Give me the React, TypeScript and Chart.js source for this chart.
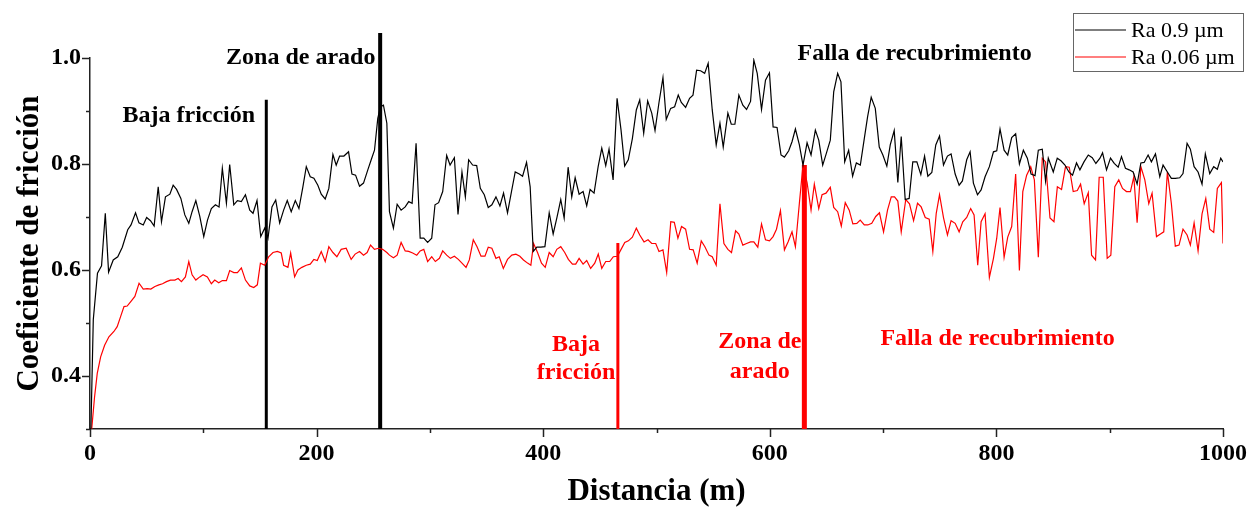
import { useEffect, useRef } from 'react';
import { Chart, registerables } from 'chart.js';

Chart.register(...registerables);

const FONT = '"Liberation Serif", "Times New Roman", serif';

// Ra 0.9 µm series
const blackDist = [0.8, 2.9, 6.6, 10.2, 13.5, 16.4, 20.5, 24.5, 28.5, 33.3, 36.2, 40.2, 43.2, 47, 50, 53.4, 56.6, 60.2, 63.1, 66.6, 70.5, 73.4, 76.4, 80.2, 83.7, 87.2, 90.1, 93.4, 96.9, 100.4, 103.7, 107.1, 110.7, 113.9, 116.8, 120.4, 123.3, 126.9, 130.1, 133.6, 137.2, 141, 143.9, 147.4, 150.7, 154.2, 157.1, 160.6, 163.9, 167.4, 170.9, 174.1, 177.6, 181.2, 184.4, 187.9, 190.9, 194.4, 197.6, 201.1, 204.1, 207.6, 210.8, 214.4, 217.3, 220.3, 224.1, 228.2, 231.2, 234.4, 237.9, 241.4, 245.2, 248.2, 251.1, 254, 256.4, 259, 262, 264.3, 267.8, 271.1, 274.6, 278.2, 281.3, 284.3, 287.8, 291.4, 294.6, 298, 301.6, 304.5, 307.7, 311.3, 314.8, 317.8, 321.6, 324.8, 328.3, 331.3, 334.2, 337.7, 341.3, 344.5, 348, 351.5, 354.7, 358.3, 361.8, 365, 368.5, 372, 375.3, 378.9, 381.8, 385.3, 388.5, 391.2, 394.4, 397.9, 401.5, 405.3, 408.8, 412, 415.5, 418.5, 422, 425.2, 428.2, 431.7, 435.2, 438.4, 441.4, 444.9, 448.5, 451.7, 455.2, 458.1, 461.7, 465.2, 468.7, 471.9, 475.1, 478.7, 482.2, 485.2, 488.7, 492.2, 495.8, 498.7, 502.2, 505.7, 508.6, 512.5, 516, 519.2, 521.9, 525.7, 529.2, 532.2, 535.4, 538.9, 542.5, 545.6, 549.2, 552.7, 556, 558.9, 563, 566, 569.2, 572.7, 576.2, 579.5, 583, 585.9, 588.9, 592.7, 596.2, 599.7, 602.9, 606.4, 609.9, 612.9, 616.7, 619.6, 622.6, 626.1, 629.3, 632.9, 636.4, 640.2, 643.2, 646.7, 649.9, 653.4, 656.4, 659.9, 662.8, 666.1, 669.6, 673.1, 676.4, 679.9, 683.4, 686.3, 689.5, 693.1, 696.6, 699.8, 703.3, 706.3, 709.8, 713, 716, 719.5, 723, 726.2, 729.8, 733.3, 736.6, 739.5, 743, 746.5, 749.8, 753.3, 756.8, 760, 763.6, 767.1, 770, 773.8, 776.8, 779.7, 783.3, 786.5, 790, 793.8, 797.4, 800.3, 803.2, 806.8, 810, 813.5, 817, 820.3, 823.8, 827.3, 830.6, 834.1, 837, 840.5, 843.4, 845.8, 850.2, 853.7, 857, 860.5, 864, 867.2, 870.7, 873.7, 877.3, 881.1, 884.6, 887.8, 891.4, 893.7, 897.2, 900.7, 904, 907.5, 910.4, 913.9, 917.2, 920.7, 924.2, 927.5, 930.4, 933.9, 936.8, 940.4, 944.2, 947.1, 950.9, 954.4, 957.9, 961.8, 964.7, 968.3, 971.2, 974.5, 978, 981.5, 984.4, 988.3, 991.8, 995, 998, 1000];
const blackCof = [0.30, 0.506, 0.594, 0.608, 0.707, 0.596, 0.619, 0.625, 0.643, 0.676, 0.685, 0.708, 0.689, 0.685, 0.699, 0.693, 0.683, 0.757, 0.691, 0.738, 0.743, 0.760, 0.752, 0.735, 0.704, 0.688, 0.710, 0.731, 0.701, 0.663, 0.694, 0.716, 0.723, 0.719, 0.792, 0.726, 0.799, 0.723, 0.731, 0.729, 0.742, 0.713, 0.707, 0.731, 0.663, 0.679, 0.660, 0.719, 0.732, 0.689, 0.713, 0.731, 0.710, 0.731, 0.716, 0.757, 0.795, 0.776, 0.773, 0.760, 0.743, 0.734, 0.754, 0.818, 0.798, 0.815, 0.815, 0.823, 0.781, 0.779, 0.758, 0.764, 0.789, 0.808, 0.826, 0.886, 0.908, 0.911, 0.877, 0.710, 0.679, 0.724, 0.713, 0.719, 0.729, 0.726, 0.839, 0.660, 0.660, 0.652, 0.660, 0.723, 0.727, 0.748, 0.816, 0.798, 0.812, 0.705, 0.785, 0.738, 0.808, 0.798, 0.797, 0.754, 0.742, 0.718, 0.723, 0.738, 0.721, 0.745, 0.708, 0.748, 0.785, 0.781, 0.777, 0.803, 0.757, 0.635, 0.643, 0.643, 0.644, 0.708, 0.668, 0.698, 0.733, 0.698, 0.794, 0.738, 0.774, 0.743, 0.748, 0.721, 0.752, 0.745, 0.795, 0.830, 0.797, 0.828, 0.770, 0.924, 0.864, 0.796, 0.808, 0.848, 0.902, 0.921, 0.858, 0.919, 0.896, 0.863, 0.916, 0.963, 0.884, 0.905, 0.908, 0.930, 0.916, 0.907, 0.924, 0.930, 0.977, 0.976, 0.971, 0.990, 0.902, 0.836, 0.877, 0.832, 0.896, 0.875, 0.875, 0.930, 0.911, 0.903, 0.918, 0.996, 0.971, 0.903, 0.958, 0.972, 0.870, 0.869, 0.817, 0.813, 0.825, 0.842, 0.866, 0.836, 0.798, 0.840, 0.817, 0.864, 0.845, 0.798, 0.820, 0.845, 0.936, 0.971, 0.955, 0.804, 0.826, 0.777, 0.802, 0.798, 0.848, 0.889, 0.926, 0.905, 0.832, 0.817, 0.796, 0.836, 0.863, 0.765, 0.852, 0.733, 0.735, 0.804, 0.804, 0.780, 0.815, 0.777, 0.784, 0.836, 0.853, 0.798, 0.815, 0.819, 0.781, 0.760, 0.768, 0.808, 0.823, 0.764, 0.742, 0.751, 0.776, 0.795, 0.823, 0.825, 0.866, 0.826, 0.817, 0.850, 0.857, 0.800, 0.826, 0.811, 0.781, 0.778, 0.826, 0.828, 0.768, 0.811, 0.785, 0.811, 0.806, 0.798, 0.785, 0.779, 0.802, 0.789, 0.804, 0.817, 0.812, 0.801, 0.811, 0.821, 0.789, 0.811, 0.801, 0.794, 0.814, 0.792, 0.789, 0.785, 0.762, 0.802, 0.803, 0.817, 0.804, 0.819, 0.776, 0.798, 0.785, 0.773, 0.773, 0.774, 0.782, 0.839, 0.828, 0.795, 0.785, 0.762, 0.819, 0.782, 0.795, 0.790, 0.811, 0.804];

// Ra 0.06 µm series
const redDist = [1.5, 4, 6.4, 9.4, 12.9, 16.7, 21.1, 24, 27, 30, 32.8, 35.8, 39.6, 43.3, 47, 50.5, 53.7, 57.3, 60.8, 64, 67.5, 71, 74.9, 77.8, 80.7, 84.2, 87.2, 90.1, 93.4, 96.9, 99.8, 103.6, 107.1, 110.1, 113.6, 116.8, 120.4, 123.3, 126.9, 130.1, 133.6, 137.2, 141, 144.5, 147.7, 150.4, 154.2, 157.7, 161.5, 165.4, 168.8, 170.9, 174.7, 177.1, 180.6, 183.5, 187, 190.9, 194.4, 197.6, 200.6, 204.1, 207.6, 210.8, 214.4, 217.9, 221.7, 226.1, 230.5, 234, 237.9, 241.4, 244.6, 247.6, 251.1, 254.6, 258.3, 262, 264.3, 267.8, 271.1, 274.6, 278.2, 281.3, 284.8, 288.4, 291.4, 294.6, 298, 301.6, 304.8, 308.4, 311.3, 314.8, 318.1, 321.6, 325.1, 328.3, 331.9, 334.8, 338.3, 341.6, 345.1, 348.6, 351.5, 354.7, 358.3, 361.2, 364.8, 368.5, 372.3, 375.9, 379.4, 382.6, 386.2, 389.1, 391.5, 395, 398.5, 401.8, 405.3, 408.8, 412, 415.5, 419, 422.2, 425.8, 428.7, 431.7, 435.2, 438.4, 441.9, 445.5, 448.6, 451.7, 455.2, 458.7, 461.9, 465.5, 468.5, 472, 475.2, 478.7, 482.2, 485.2, 489, 492.5, 495.8, 499.3, 502.2, 505.7, 509, 512.6, 515.7, 518.9, 522.1, 525.7, 529.2, 532.4, 535.9, 539.5, 542.7, 546.3, 549.2, 552.7, 556, 559.5, 563, 566.2, 569.8, 572.7, 576.2, 579.5, 583, 585.9, 589.4, 592.7, 596.2, 599.7, 602.9, 605.9, 609.4, 612.9, 616.1, 619.6, 622.6, 626.1, 629.3, 632.9, 636.4, 639.3, 643.2, 646.1, 649.6, 653.4, 656.4, 659.9, 663.1, 666.6, 670.1, 673.3, 676.8, 679.8, 683.4, 686.5, 690, 693.5, 696.8, 700.4, 703.9, 707.2, 710.1, 713, 716, 720, 723.3, 726.9, 730.4, 733.6, 737.2, 740.7, 743.9, 746.9, 749.8, 753.3, 756.8, 760, 763.6, 767.1, 770.3, 773.8, 777.3, 780.3, 783.5, 786.5, 790, 793.8, 797.4, 800.3, 803.2, 806.8, 810, 813.5, 817, 820.3, 823.3, 826.7, 830.3, 833.5, 837, 840.5, 843.4, 847.3, 850.8, 853.8, 857.5, 861, 864.3, 867.8, 871.4, 874.3, 877.5, 881.1, 884, 887.5, 890.7, 894.3, 897.8, 901, 904.5, 908, 911.3, 914.8, 918.3, 921.3, 924.2, 927.5, 931, 934.5, 937.4, 941.3, 944.8, 947.7, 950.9, 954.4, 957.9, 961.2, 964.7, 968.3, 971.2, 974.5, 978, 981.5, 984.8, 988.3, 991.8, 995, 998.6, 1000];
const redCof = [0.30, 0.36, 0.405, 0.436, 0.458, 0.474, 0.484, 0.493, 0.512, 0.531, 0.532, 0.540, 0.550, 0.575, 0.564, 0.565, 0.564, 0.569, 0.572, 0.574, 0.578, 0.581, 0.581, 0.584, 0.578, 0.587, 0.616, 0.591, 0.581, 0.587, 0.591, 0.587, 0.574, 0.581, 0.576, 0.580, 0.580, 0.599, 0.595, 0.595, 0.604, 0.581, 0.570, 0.567, 0.572, 0.613, 0.609, 0.625, 0.633, 0.635, 0.632, 0.609, 0.605, 0.632, 0.587, 0.600, 0.605, 0.609, 0.611, 0.620, 0.618, 0.635, 0.616, 0.644, 0.633, 0.625, 0.639, 0.641, 0.620, 0.630, 0.635, 0.628, 0.633, 0.647, 0.639, 0.641, 0.639, 0.633, 0.628, 0.623, 0.628, 0.652, 0.636, 0.635, 0.632, 0.628, 0.636, 0.639, 0.616, 0.625, 0.616, 0.622, 0.636, 0.628, 0.622, 0.626, 0.620, 0.613, 0.605, 0.619, 0.657, 0.644, 0.626, 0.626, 0.643, 0.641, 0.622, 0.625, 0.603, 0.620, 0.628, 0.630, 0.626, 0.619, 0.613, 0.609, 0.650, 0.633, 0.613, 0.605, 0.633, 0.625, 0.639, 0.644, 0.633, 0.620, 0.611, 0.611, 0.622, 0.611, 0.618, 0.603, 0.613, 0.630, 0.603, 0.616, 0.616, 0.625, 0.626, 0.638, 0.652, 0.655, 0.662, 0.679, 0.666, 0.653, 0.657, 0.650, 0.650, 0.635, 0.638, 0.595, 0.691, 0.690, 0.660, 0.682, 0.677, 0.639, 0.638, 0.613, 0.655, 0.644, 0.628, 0.625, 0.609, 0.725, 0.650, 0.639, 0.633, 0.674, 0.668, 0.647, 0.650, 0.653, 0.653, 0.643, 0.687, 0.657, 0.655, 0.663, 0.677, 0.712, 0.638, 0.653, 0.672, 0.644, 0.726, 0.798, 0.765, 0.713, 0.762, 0.716, 0.742, 0.745, 0.756, 0.718, 0.710, 0.683, 0.727, 0.713, 0.687, 0.688, 0.694, 0.685, 0.685, 0.688, 0.701, 0.708, 0.672, 0.713, 0.738, 0.738, 0.730, 0.672, 0.733, 0.725, 0.693, 0.726, 0.719, 0.699, 0.696, 0.635, 0.707, 0.742, 0.699, 0.666, 0.693, 0.688, 0.672, 0.691, 0.699, 0.716, 0.704, 0.609, 0.691, 0.706, 0.586, 0.622, 0.660, 0.718, 0.624, 0.662, 0.682, 0.781, 0.599, 0.748, 0.779, 0.795, 0.770, 0.624, 0.811, 0.804, 0.698, 0.691, 0.757, 0.752, 0.795, 0.794, 0.748, 0.750, 0.762, 0.725, 0.746, 0.628, 0.619, 0.775, 0.775, 0.622, 0.628, 0.757, 0.770, 0.754, 0.748, 0.748, 0.776, 0.689, 0.795, 0.770, 0.725, 0.745, 0.663, 0.668, 0.672, 0.785, 0.726, 0.645, 0.647, 0.677, 0.666, 0.647, 0.689, 0.636, 0.706, 0.735, 0.677, 0.671, 0.754, 0.765, 0.650];

const seriesNames = ['Ra 0.9 µm', 'Ra 0.06 µm'];
const xTickValues = [0, 200, 400, 600, 800, 1000];
const yTickValues = [0.4, 0.6, 0.8, 1.0];

// vertical zone markers (distance, top value, which series colour)
const markerDist = [155.6, 256.1, 465.9, 630.5];
const markerTop = [0.921, 1.047, 0.651, 0.798];
const markerSeries = [0, 0, 1, 1];

// annotation texts placed in data coordinates
const noteTexts = ['Baja fricción', 'Zona de arado', 'Falla de recubrimiento', 'Baja', 'fricción', 'Zona de', 'arado', 'Falla de recubrimiento'];
const noteDist = [87.2, 186, 727.8, 429, 429, 591.2, 591.2, 801];
const noteCof = [0.891, 1.0, 1.0075, 0.458, 0.406, 0.465, 0.408, 0.470];
const noteSeries = [0, 0, 0, 1, 1, 1, 1, 1];

const seriesColors = ['#000000', '#ff0000'];
const markerWidths = [3, 4, 3, 5];

export default function App() {
  const canvasRef = useRef<HTMLCanvasElement | null>(null);

  useEffect(() => {
    const canvas = canvasRef.current;
    if (!canvas) return;

    const decorations = {
      id: 'decorations',
      afterDraw(chart: any) {
        const { ctx, chartArea } = chart;
        const xs = chart.scales.x;
        const ys = chart.scales.y;
        ctx.save();
        // tick marks
        ctx.strokeStyle = '#222';
        ctx.lineWidth = 1.5;
        for (let i = 3; i <= 10; i++) {
          const py = Math.round(ys.getPixelForValue(i / 10)) + 0.5;
          const len = i % 2 === 0 ? 8 : 4;
          ctx.beginPath();
          ctx.moveTo(chartArea.left - len, py);
          ctx.lineTo(chartArea.left, py);
          ctx.stroke();
        }
        for (let i = 0; i <= 10; i++) {
          const px = Math.round(xs.getPixelForValue(i * 100)) + 0.5;
          const len = i % 2 === 0 ? 8 : 4;
          ctx.beginPath();
          ctx.moveTo(px, chartArea.bottom);
          ctx.lineTo(px, chartArea.bottom + len);
          ctx.stroke();
        }
        // annotations
        ctx.font = `bold 24px ${FONT}`;
        ctx.textAlign = 'center';
        ctx.textBaseline = 'middle';
        noteTexts.forEach((t, i) => {
          ctx.fillStyle = seriesColors[noteSeries[i]];
          ctx.fillText(t, xs.getPixelForValue(noteDist[i]), ys.getPixelForValue(noteCof[i]));
        });
        // axis titles
        ctx.fillStyle = '#000';
        ctx.font = `bold 31px ${FONT}`;
        ctx.fillText('Distancia (m)', (chartArea.left + chartArea.right) / 2, 492);
        ctx.save();
        ctx.translate(30, (chartArea.top + chartArea.bottom) / 2);
        ctx.rotate(-Math.PI / 2);
        ctx.fillText('Coeficiente de fricción', 0, 0);
        ctx.restore();
        // legend
        ctx.strokeStyle = '#666';
        ctx.lineWidth = 1;
        ctx.strokeRect(1073.5, 13.5, 170, 58);
        ctx.font = `22px ${FONT}`;
        ctx.textAlign = 'left';
        seriesNames.forEach((name, i) => {
          const y = 30 + i * 27;
          ctx.strokeStyle = seriesColors[i];
          ctx.lineWidth = 1.2;
          ctx.beginPath();
          ctx.moveTo(1075, y);
          ctx.lineTo(1126, y);
          ctx.stroke();
          ctx.fillStyle = '#000';
          ctx.fillText(name, 1131, y + 1);
        });
        ctx.restore();
      },
    };

    const chart = new Chart(canvas, {
      type: 'line',
      data: {
        datasets: [
          {
            label: seriesNames[0],
            data: blackDist.map((x, i) => ({ x, y: blackCof[i] })),
            borderColor: seriesColors[0],
            borderWidth: 1.2,
            pointRadius: 0,
            tension: 0,
          },
          {
            label: seriesNames[1],
            data: redDist.map((x, i) => ({ x, y: redCof[i] })),
            borderColor: seriesColors[1],
            borderWidth: 1.2,
            pointRadius: 0,
            tension: 0,
          },
          ...markerDist.map((d, i) => ({
            label: 'marker' + i,
            data: [{ x: d, y: 0.3 }, { x: d, y: markerTop[i] }],
            borderColor: seriesColors[markerSeries[i]],
            borderWidth: markerWidths[i],
            pointRadius: 0,
            clip: false as any,
          })),
        ],
      },
      options: {
        animation: false,
        responsive: true,
        maintainAspectRatio: false,
        layout: { padding: { left: 0, right: 29, top: 58, bottom: 0 } },
        plugins: { legend: { display: false }, tooltip: { enabled: false } },
        scales: {
          x: {
            type: 'linear',
            min: 0,
            max: 1000,
            afterFit: (s: any) => { s.height = 79; },
            afterBuildTicks: (s: any) => { s.ticks = xTickValues.map((value) => ({ value })); },
            grid: { display: true, drawOnChartArea: false, drawTicks: false },
            border: { display: true, color: '#222', width: 1.5 },
            ticks: {
              autoSkip: false,
              maxRotation: 0,
              padding: 10,
              color: '#000',
              font: { family: FONT, size: 24, weight: 'bold' },
              callback: (v: any) => String(v),
            },
          },
          y: {
            type: 'linear',
            min: 0.3,
            max: 1.0,
            afterFit: (s: any) => { s.width = 90; },
            afterBuildTicks: (s: any) => { s.ticks = yTickValues.map((value) => ({ value })); },
            grid: { display: true, drawOnChartArea: false, drawTicks: false },
            border: { display: true, color: '#222', width: 1.5 },
            ticks: {
              autoSkip: false,
              padding: 9,
              color: '#000',
              font: { family: FONT, size: 24, weight: 'bold' },
              callback: (v: any) => Number(v).toFixed(1),
            },
          },
        },
      },
      plugins: [decorations],
    } as any);

    return () => chart.destroy();
  }, []);

  return (
    <div style={{ position: 'fixed', left: 0, top: 0, width: 1257, height: 508, background: '#fff' }}>
      <canvas ref={canvasRef} />
    </div>
  );
}
